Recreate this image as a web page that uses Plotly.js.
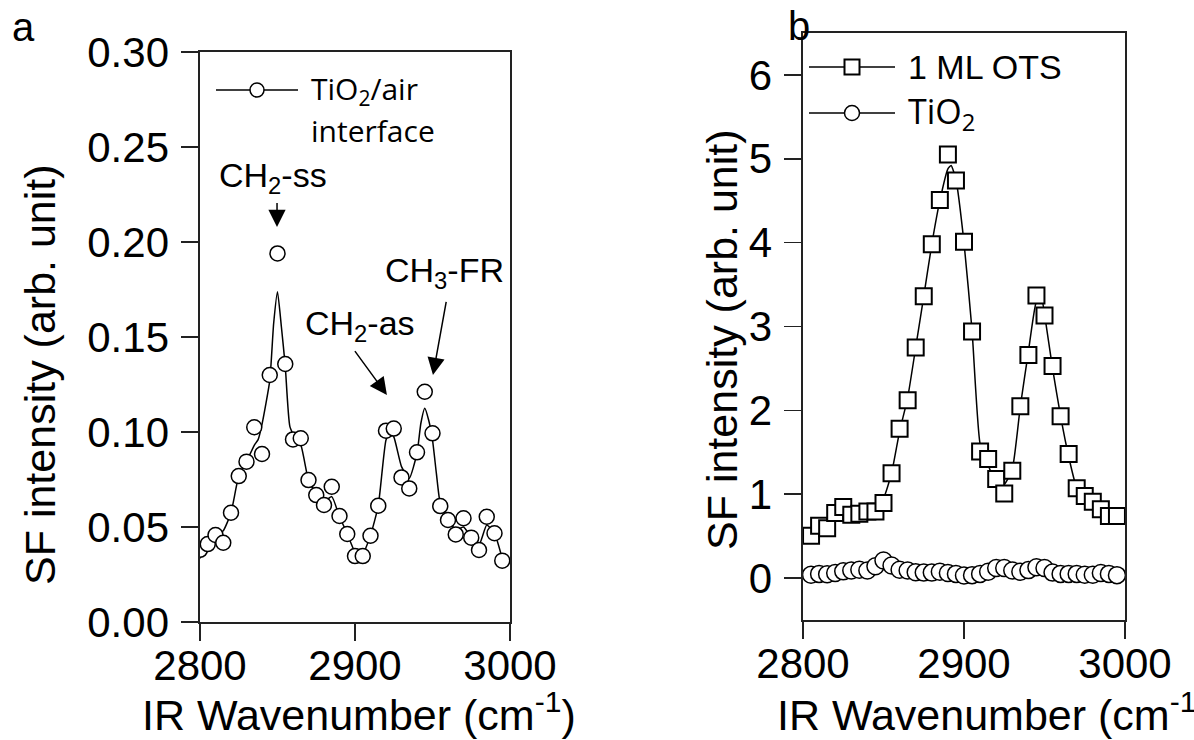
<!DOCTYPE html>
<html>
<head>
<meta charset="utf-8">
<script src="https://cdn.plot.ly/plotly-3.0.1.min.js"></script>
<style>html,body{margin:0;padding:0;background:#fff;}#chart{width:1194px;height:740px;}</style>
</head>
<body>
<div id="chart"></div>
<script>
// ---------- Data ----------
// Panel a: TiO2/air interface, measured points
const waveA = [2800,2805,2810,2815,2820,2825,2830,2835,2840,2845,2850,2855,2860,2865,2870,2875,2880,2885,2890,2895,
               2900,2905,2910,2915,2920,2925,2930,2935,2940,2945,2950,2955,2960,2965,2970,2975,2980,2985,2990,2995];
const sfA = [0.038,0.041,0.0458,0.0417,0.0575,0.0768,0.0844,0.1025,0.0884,0.130,0.194,0.1358,0.0961,0.0967,0.0747,0.0668,0.0616,0.0712,0.0558,0.0463,
             0.0347,0.0347,0.0454,0.0612,0.1007,0.1018,0.0761,0.0703,0.0893,0.1212,0.0993,0.061,0.0537,0.0461,0.0546,0.0444,0.0379,0.0554,0.0467,0.0323];
// Panel a: fitted curve
const fitWaveA = [2800,2805,2810,2815,2820,2825,2830,2835,2837.5,2840,2845,2847.5,2850,2852.5,2855,2858,2862,2865,2870,2875,2880,2885,2890,2895,
                  2900,2905,2910,2915,2920,2922.5,2925,2930,2935,2940,2942.5,2945,2947.5,2950,2952.5,2955,2960,2965,2970,2975,2980,2985,2990,2995];
const fitA = [0.0335,0.041,0.045,0.048,0.0575,0.0768,0.0844,0.093,0.096,0.104,0.127,0.157,0.1738,0.1554,0.1347,0.1028,0.0958,0.0933,0.0747,0.0674,0.0633,0.066,0.0554,0.0465,
              0.037,0.036,0.0456,0.0612,0.0958,0.0994,0.0975,0.0818,0.0756,0.0888,0.1046,0.1125,0.1063,0.0958,0.0782,0.0625,0.0546,0.0484,0.05,0.0446,0.0405,0.051,0.0467,0.0335];

// Panel b: 1 ML OTS and TiO2
const waveB = [2805,2810,2815,2820,2825,2830,2835,2840,2845,2850,2855,2860,2865,2870,2875,2880,2885,2890,2895,2900,
               2905,2910,2915,2920,2925,2930,2935,2940,2945,2950,2955,2960,2965,2970,2975,2980,2985,2990,2995];
const sfOTS = [0.506,0.625,0.593,0.776,0.848,0.756,0.768,0.795,0.795,0.895,1.25,1.78,2.12,2.75,3.36,3.98,4.51,5.05,4.74,4.01,
               2.94,1.51,1.42,1.18,1.01,1.28,2.05,2.66,3.37,3.13,2.53,1.93,1.48,1.07,0.98,0.91,0.82,0.74,0.74];
const sfTiO2 = [0.04,0.05,0.045,0.06,0.08,0.09,0.10,0.09,0.14,0.21,0.15,0.10,0.09,0.07,0.065,0.065,0.075,0.06,0.05,0.03,
                0.035,0.05,0.075,0.12,0.12,0.09,0.075,0.095,0.13,0.12,0.065,0.05,0.05,0.05,0.04,0.04,0.06,0.05,0.035];
// Panel b: fitted curve for OTS
const fitWaveB = [2800,2805,2810,2815,2820,2825,2830,2835,2840,2845,2850,2855,2860,2865,2870,2875,2880,2885,2890,2892,2895,2900,
                  2905,2910,2915,2920,2925,2930,2935,2940,2945,2948,2950,2955,2960,2965,2970,2975,2980,2985,2990,2995];
const fitOTS = [0.47,0.55,0.62,0.66,0.72,0.76,0.77,0.79,0.80,0.83,0.95,1.25,1.75,2.15,2.75,3.36,3.98,4.5,4.88,4.92,4.75,4.0,
                2.95,1.6,1.35,1.12,1.12,1.3,2.05,2.7,3.3,3.35,3.15,2.5,1.93,1.45,1.08,0.98,0.9,0.82,0.75,0.72];

const xTicks = [2800, 2900, 3000];
const yTicksA = [0, 0.05, 0.10, 0.15, 0.20, 0.25, 0.30];
const yTicksB = [0, 1, 2, 3, 4, 5, 6];

// ---------- Layout helpers ----------
const W = 1194, H = 740;
const px = v => v / W;
const py = v => 1 - v / H;
const ARIAL = 'Liberation Sans, Arial, sans-serif';
const OPEN = 'Open Sans, sans-serif';

const circleMarkerA = {symbol: 'circle', size: 15, color: '#fff', line: {color: '#000', width: 1.5}};
const circleMarkerB = {symbol: 'circle', size: 17, color: '#fff', line: {color: '#000', width: 1.5}};
const squareMarker = {symbol: 'square', size: 16, color: '#fff', line: {color: '#000', width: 2}};

const traces = [
  {x: fitWaveA, y: fitA, xaxis: 'x', yaxis: 'y', mode: 'lines', line: {color: '#000', width: 1.5, shape: 'spline', smoothing: 0.5}, hoverinfo: 'skip'},
  {x: waveA, y: sfA, xaxis: 'x', yaxis: 'y', mode: 'markers', marker: circleMarkerA, name: 'TiO2/air interface'},
  {x: fitWaveB, y: fitOTS, xaxis: 'x2', yaxis: 'y2', mode: 'lines', line: {color: '#000', width: 1.5, shape: 'spline', smoothing: 0.5}, hoverinfo: 'skip'},
  {x: waveB, y: sfOTS, xaxis: 'x2', yaxis: 'y2', mode: 'markers', marker: squareMarker, name: '1 ML OTS'},
  {x: waveB, y: sfTiO2, xaxis: 'x2', yaxis: 'y2', mode: 'lines+markers', line: {color: '#000', width: 1.2, shape: 'spline'}, marker: circleMarkerB, name: 'TiO2'}
];

const axisCommon = {
  showline: true, mirror: true, linecolor: '#222', linewidth: 1.6,
  ticks: 'outside', ticklen: 17, tickwidth: 1.6, tickcolor: '#222',
  showgrid: false, zeroline: false, fixedrange: true,
  tickfont: {family: ARIAL, size: 42, color: '#000'}
};

function legendShapes() {
  const s = [];
  const line = (x0, x1, y) => ({type: 'line', xref: 'paper', yref: 'paper', x0: px(x0), x1: px(x1), y0: py(y), y1: py(y), line: {color: '#000', width: 1.5}});
  const circ = (cx, cy, r) => ({type: 'circle', xref: 'paper', yref: 'paper', x0: px(cx - r), x1: px(cx + r), y0: py(cy + r), y1: py(cy - r), fillcolor: '#fff', line: {color: '#000', width: 1.5}});
  const sq = (cx, cy, r) => ({type: 'rect', xref: 'paper', yref: 'paper', x0: px(cx - r), x1: px(cx + r), y0: py(cy + r), y1: py(cy - r), fillcolor: '#fff', line: {color: '#000', width: 2}});
  s.push(line(216, 298, 90), circ(257, 90, 7));
  s.push(line(809, 895, 67), sq(852, 67, 7.5));
  s.push(line(809, 895, 113), circ(852, 113, 7.5));
  return s;
}

const annFont = {family: ARIAL, size: 34, color: '#000'};
const annotations = [
  // panel letters
  {text: 'a', xref: 'paper', yref: 'paper', x: px(23), y: py(27), xanchor: 'center', yanchor: 'middle', showarrow: false, font: {family: ARIAL, size: 40, color: '#000'}},
  {text: 'b', xref: 'paper', yref: 'paper', x: px(799), y: py(26), xanchor: 'center', yanchor: 'middle', showarrow: false, font: {family: ARIAL, size: 40, color: '#000'}},
  // axis titles
  {text: 'SF intensity (arb. unit)', xref: 'paper', yref: 'paper', x: px(40), y: py(375), textangle: -90, xanchor: 'center', yanchor: 'middle', showarrow: false, font: {family: ARIAL, size: 43, color: '#000'}},
  {text: 'SF intensity (arb. unit)', xref: 'paper', yref: 'paper', x: px(722), y: py(340), textangle: -90, xanchor: 'center', yanchor: 'middle', showarrow: false, font: {family: ARIAL, size: 43, color: '#000'}},
  {text: 'IR Wavenumber (cm<sup>-1</sup>)', xref: 'paper', yref: 'paper', x: px(359), y: py(712), xanchor: 'center', yanchor: 'middle', showarrow: false, font: {family: ARIAL, size: 43, color: '#000'}},
  {text: 'IR Wavenumber (cm<sup>-1</sup>)', xref: 'paper', yref: 'paper', x: px(775), y: py(712), xanchor: 'left', yanchor: 'middle', showarrow: false, font: {family: ARIAL, size: 43, color: '#000'}},
  // legends
  {text: 'TiO<sub>2</sub>/air', xref: 'paper', yref: 'paper', x: px(309), y: py(90), xanchor: 'left', yanchor: 'middle', align: 'left', showarrow: false, font: {family: OPEN, size: 30, color: '#000'}},
  {text: 'interface', xref: 'paper', yref: 'paper', x: px(309), y: py(131), xanchor: 'left', yanchor: 'middle', align: 'left', showarrow: false, font: {family: OPEN, size: 30, color: '#000'}},
  {text: '1 ML OTS', xref: 'paper', yref: 'paper', x: px(906), y: py(67), xanchor: 'left', yanchor: 'middle', showarrow: false, font: {family: ARIAL, size: 34, color: '#000'}},
  {text: 'TiO<sub>2</sub>', xref: 'paper', yref: 'paper', x: px(906), y: py(113), xanchor: 'left', yanchor: 'middle', showarrow: false, font: {family: OPEN, size: 34, color: '#000'}},
  // peak labels (panel a)
  {text: 'CH<sub>2</sub>-ss', xref: 'x', yref: 'y', x: 2847, y: 0.2337, xanchor: 'center', yanchor: 'middle', showarrow: false, font: annFont},
  {text: 'CH<sub>3</sub>-FR', xref: 'x', yref: 'y', x: 2958, y: 0.1842, xanchor: 'center', yanchor: 'middle', showarrow: false, font: annFont},
  {text: 'CH<sub>2</sub>-as', xref: 'x', yref: 'y', x: 2903, y: 0.1558, xanchor: 'center', yanchor: 'middle', showarrow: false, font: annFont},
  // arrows
  {text: ' ', xref: 'x', yref: 'y', x: 2849.7, y: 0.2079, axref: 'x', ayref: 'y', ax: 2849.7, ay: 0.2258, showarrow: true, arrowhead: 2, arrowsize: 2.3, arrowwidth: 1.5, arrowcolor: '#000'},
  {text: ' ', xref: 'x', yref: 'y', x: 2950.3, y: 0.130, axref: 'x', ayref: 'y', ax: 2960, ay: 0.1737, showarrow: true, arrowhead: 2, arrowsize: 2.3, arrowwidth: 1.5, arrowcolor: '#000'},
  {text: ' ', xref: 'x', yref: 'y', x: 2920.6, y: 0.1195, axref: 'x', ayref: 'y', ax: 2898, ay: 0.1447, showarrow: true, arrowhead: 2, arrowsize: 2.3, arrowwidth: 1.5, arrowcolor: '#000'}
];

const layout = {
  width: W, height: H,
  margin: {l: 0, r: 0, t: 0, b: 0},
  paper_bgcolor: '#fff', plot_bgcolor: '#fff',
  showlegend: false,
  xaxis: Object.assign({}, axisCommon, {domain: [px(200), px(510)], anchor: 'y', range: [2800, 3000], tickvals: xTicks, ticklabelstandoff: -11}),
  yaxis: Object.assign({}, axisCommon, {domain: [py(622), py(52)], anchor: 'x', range: [0, 0.30], tickvals: yTicksA, tickformat: '.2f', ticklabelstandoff: 4}),
  xaxis2: Object.assign({}, axisCommon, {domain: [px(803), px(1125)], anchor: 'y2', range: [2800, 3000], tickvals: xTicks, ticklabelstandoff: -11}),
  yaxis2: Object.assign({}, axisCommon, {domain: [py(620), py(33)], anchor: 'x2', range: [-0.5, 6.5], tickvals: yTicksB, ticklabelstandoff: 4}),
  shapes: legendShapes(),
  annotations: annotations
};

Plotly.newPlot('chart', traces, layout, {staticPlot: true, displayModeBar: false});
</script>
</body>
</html>
